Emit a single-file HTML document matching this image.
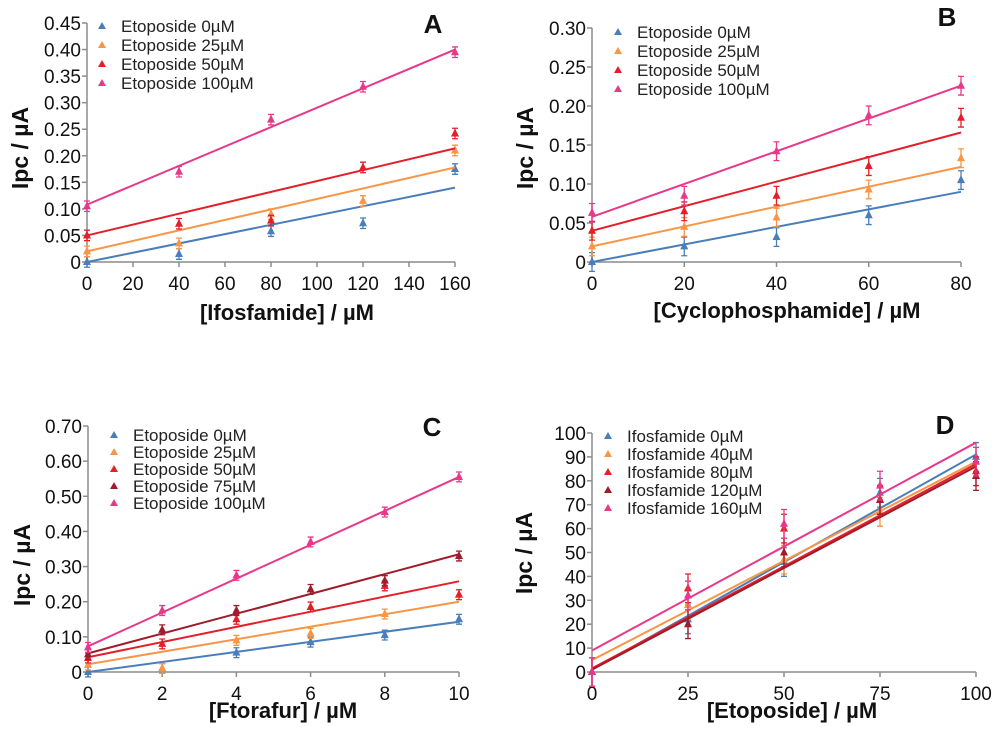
<!DOCTYPE html>
<html><head><meta charset="utf-8"><style>
body{margin:0;background:#fff;}
svg text{font-family:"Liberation Sans",Arial,sans-serif;}
</style></head><body>
<svg id="chart" width="1000" height="739" xmlns="http://www.w3.org/2000/svg"></svg>
<script>
// ---------- Panel A data ----------
const aX = [0,40,80,120,160];
const aNames = ["Etoposide 0µM","Etoposide 25µM","Etoposide 50µM","Etoposide 100µM"];
const aBlue = [0,0.015,0.058,0.073,0.175];
const aOrange = [0.02,0.035,0.09,0.115,0.21];
const aRed = [0.05,0.072,0.078,0.178,0.242];
const aMagenta = [0.105,0.17,0.268,0.33,0.395];
const aFitStart = [0,0.02,0.05,0.108];
const aFitEnd = [0.14,0.178,0.214,0.40];
const aYTicks = ["0","0.05","0.10","0.15","0.20","0.25","0.30","0.35","0.40","0.45"];
const aXTicks = [0,20,40,60,80,100,120,140,160];
// ---------- Panel B data ----------
const bX = [0,20,40,60,80];
const bNames = ["Etoposide 0µM","Etoposide 25µM","Etoposide 50µM","Etoposide 100µM"];
const bBlue = [0,0.02,0.032,0.06,0.105];
const bOrange = [0.02,0.045,0.057,0.093,0.133];
const bRed = [0.04,0.065,0.085,0.123,0.185];
const bMagenta = [0.063,0.085,0.142,0.188,0.226];
const bFitStart = [0,0.02,0.04,0.058];
const bFitEnd = [0.09,0.122,0.166,0.226];
const bYTicks = ["0","0.05","0.10","0.15","0.20","0.25","0.30"];
const bXTicks = [0,20,40,60,80];
// ---------- Panel C data ----------
const cX = [0,2,4,6,8,10];
const cNames = ["Etoposide 0µM","Etoposide 25µM","Etoposide 50µM","Etoposide 75µM","Etoposide 100µM"];
const cBlue = [0,0.01,0.055,0.085,0.105,0.15];
const cOrange = [0.02,0.01,0.09,0.11,0.165,0.22];
const cRed = [0.04,0.08,0.15,0.185,0.245,0.22];
const cDarkRed = [0.05,0.12,0.175,0.235,0.26,0.33];
const cMagenta = [0.07,0.175,0.275,0.37,0.455,0.555];
const cFitStart = [0,0.022,0.042,0.053,0.073];
const cFitEnd = [0.143,0.2,0.258,0.335,0.555];
const cYTicks = ["0","0.10","0.20","0.30","0.40","0.50","0.60","0.70"];
const cXTicks = [0,2,4,6,8,10];
// ---------- Panel D data ----------
const dX = [0,25,50,75,100];
const dNames = ["Ifosfamide 0µM","Ifosfamide 40µM","Ifosfamide 80µM","Ifosfamide 120µM","Ifosfamide 160µM"];
const dBlue = [0,22,46,75,90];
const dOrange = [0,28,47,67,88];
const dRed = [0,35,60,72,84];
const dDarkRed = [0,20,50,72,82];
const dMagenta = [0,32,62,78,88];
const dFitStart = [1,5,1.5,1,9];
const dFitEnd = [91,88,87,86,96];
const dYTicks = ["0","10","20","30","40","50","60","70","80","90","100"];
const dXTicks = [0,25,50,75,100];

const C4 = ["#4a7ebb","#f79646","#e3202a","#e8388a"];
const C5 = ["#4a7ebb","#f79646","#e3202a","#a01c2a","#e8388a"];
const NS="http://www.w3.org/2000/svg";
const svg=document.getElementById('chart');
function el(tag,attrs,parent){const e=document.createElementNS(NS,tag);for(const k in attrs)e.setAttribute(k,attrs[k]);(parent||svg).appendChild(e);return e;}

function panel(cfg){
  const g=el('g',{});
  
  
  const sx=v=>cfg.x0+(v-cfg.xmin)/(cfg.xmax-cfg.xmin)*(cfg.x1-cfg.x0);
  const sy=v=>cfg.y0-(v-cfg.ymin)/(cfg.ymax-cfg.ymin)*(cfg.y0-cfg.y1);
  const ax=el('line',{x1:cfg.x0,y1:cfg.y0,x2:cfg.x1,y2:cfg.y0,stroke:'#8c8c8c','stroke-width':1.5},g);
  
  const ay=el('line',{x1:cfg.x0,y1:cfg.y0,x2:cfg.x0,y2:cfg.y1,stroke:'#8c8c8c','stroke-width':1.5},g);
  
  const ny=cfg.yTicks.length;
  cfg.yTicks.forEach((t,i)=>{
    const v=cfg.ymin+i*(cfg.ymax-cfg.ymin)/(ny-1);const y=sy(v);
    el('line',{x1:cfg.x0-5,y1:y,x2:cfg.x0,y2:y,stroke:'#8c8c8c','stroke-width':1.5},g);
    const tx=el('text',{x:cfg.x0-6,y:y+7,'text-anchor':'end','font-size':19,fill:'#111'},g);
    tx.textContent=t;
    
  });
  cfg.xTicks.forEach(v=>{
    const x=sx(v);
    el('line',{x1:x,y1:cfg.y0,x2:x,y2:cfg.y0+5,stroke:'#8c8c8c','stroke-width':1.5},g);
    const tx=el('text',{x:x,y:cfg.y0+28,'text-anchor':'middle','font-size':19,fill:'#111'},g);
    tx.textContent=v;
    
  });
  cfg.series.forEach((s,k)=>{
    const col=cfg.colors[k];
    const fl=el('line',{x1:sx(cfg.xs[0]),y1:sy(cfg.fitStart[k]),x2:sx(cfg.xs[cfg.xs.length-1]),y2:sy(cfg.fitEnd[k]),stroke:col,'stroke-width':2},g);
    
    s.forEach((v,i)=>{
      const x=sx(cfg.xs[i]),y=sy(v);const e=cfg.err*(cfg.ymax-cfg.ymin);
      const eb=el('path',{d:`M${x},${sy(v-e)}V${sy(v+e)}M${x-3},${sy(v-e)}h6M${x-3},${sy(v+e)}h6`,stroke:col,'stroke-width':1.3,fill:'none'},g);
      
      const m=el('path',{d:`M${x},${y-5}L${x+4},${y+3}L${x-4},${y+3}Z`,fill:col},g);
      
    });
  });
  cfg.names.forEach((n,k)=>{
    const y=cfg.ly+k*cfg.ldy;
    const m=el('path',{d:`M${cfg.lx-19},${y-10}L${cfg.lx-15},${y-3}L${cfg.lx-23},${y-3}Z`,fill:cfg.colors[k]},g);
    
    const t=el('text',{x:cfg.lx,y:y,'font-size':17,fill:'#222'},g);
    t.textContent=n;
    
  });
  const L=el('text',{x:cfg.letter[0],y:cfg.letter[1],'font-size':26,'font-weight':'bold',fill:'#111','text-anchor':'middle'},g);
  L.textContent=cfg.label;
  const xt=el('text',{x:cfg.xt[0],y:cfg.xt[1],'font-size':22,'font-weight':'bold','text-anchor':'middle',fill:'#111'},g);
  xt.textContent=cfg.xtitle;
  const yt=el('text',{x:0,y:0,'font-size':23,'font-weight':'bold','text-anchor':'middle',fill:'#111',transform:`translate(${cfg.yt[0]},${cfg.yt[1]}) rotate(-90)`},g);
  yt.textContent='Ipc / µA';
}

panel({id:'panel-a',x0:87,x1:455,y0:262,y1:23,xmin:0,xmax:160,ymin:0,ymax:0.45,xs:aX,
  series:[aBlue,aOrange,aRed,aMagenta],fitStart:aFitStart,fitEnd:aFitEnd,colors:C4,names:aNames,
  yTicks:aYTicks,xTicks:aXTicks,err:0.022,lx:121,ly:32,ldy:19,letter:[433,33],label:'A',
  xt:[287,320],xtitle:'[Ifosfamide] / µM',yt:[28,148]});
panel({id:'panel-b',x0:592,x1:961,y0:262,y1:28,xmin:0,xmax:80,ymin:0,ymax:0.30,xs:bX,
  series:[bBlue,bOrange,bRed,bMagenta],fitStart:bFitStart,fitEnd:bFitEnd,colors:C4,names:bNames,
  yTicks:bYTicks,xTicks:bXTicks,err:0.04,lx:637,ly:38,ldy:19,letter:[947,26],label:'B',
  xt:[787,318],xtitle:'[Cyclophosphamide] / µM',yt:[533,148]});
panel({id:'panel-c',x0:88,x1:459,y0:672,y1:426,xmin:0,xmax:10,ymin:0,ymax:0.70,xs:cX,
  series:[cBlue,cOrange,cRed,cDarkRed,cMagenta],fitStart:cFitStart,fitEnd:cFitEnd,colors:C5,names:cNames,
  yTicks:cYTicks,xTicks:cXTicks,err:0.02,lx:133,ly:441,ldy:17,letter:[432,436],label:'C',
  xt:[283,718],xtitle:'[Ftorafur] / µM',yt:[30,565]});
panel({id:'panel-d',x0:592,x1:976,y0:672,y1:433,xmin:0,xmax:100,ymin:0,ymax:100,xs:dX,
  series:[dBlue,dOrange,dRed,dDarkRed,dMagenta],fitStart:dFitStart,fitEnd:dFitEnd,colors:C5,names:dNames,
  yTicks:dYTicks,xTicks:dXTicks,err:0.06,lx:627,ly:442,ldy:18,letter:[945,434],label:'D',
  xt:[792,718],xtitle:'[Etoposide] / µM',yt:[532,553]});
</script>
</body></html>
